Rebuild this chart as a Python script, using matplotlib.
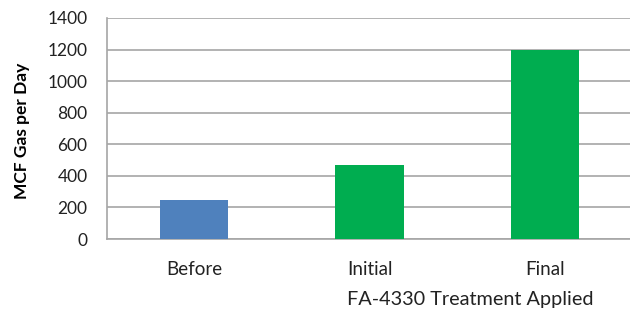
import matplotlib.pyplot as plt

categories = ['Before', 'Initial', 'Final']
gas_per_day = [250, 470, 1200]
bar_colors = ['#4f81bd', '#00ad50', '#00ad50']
y_ticks = [0, 200, 400, 600, 800, 1000, 1200, 1400]

plt.rcParams['font.family'] = ['Lato', 'DejaVu Sans']

fig = plt.figure(figsize=(6.3, 3.11), dpi=100)
ax = fig.add_axes([107 / 630, 1 - 239 / 311, 523 / 630, 221 / 311])

x = range(len(categories))
ax.bar(x, gas_per_day, width=0.39, color=bar_colors, zorder=3)

ax.set_xlim(-0.496, 2.484)
ax.set_ylim(0, 1400)
ax.set_yticks(y_ticks)
ax.set_xticks(list(x))
ax.set_xticklabels(categories)

ax.grid(axis='y', color='#a6a6a6', linewidth=1.2, zorder=0)
for side in ['top', 'right']:
    ax.spines[side].set_visible(False)
for side in ['left', 'bottom']:
    ax.spines[side].set_color('#a6a6a6')
    ax.spines[side].set_linewidth(1.2)

ax.tick_params(axis='y', length=0, pad=14, labelsize=12.5, colors='#222222')
ax.tick_params(axis='x', length=0, pad=16, labelsize=13.5, colors='#222222')

fig.text(22 / 630, 1 - 131 / 311, 'MCF Gas per Day', rotation=90,
         ha='center', va='center', fontsize=12.5, fontweight='bold')
fig.text(470 / 630, 1 - 300 / 311, 'FA-4330 Treatment Applied',
         ha='center', va='center', fontsize=14.3, color='#222222')

fig.savefig('out.png', dpi=100)
